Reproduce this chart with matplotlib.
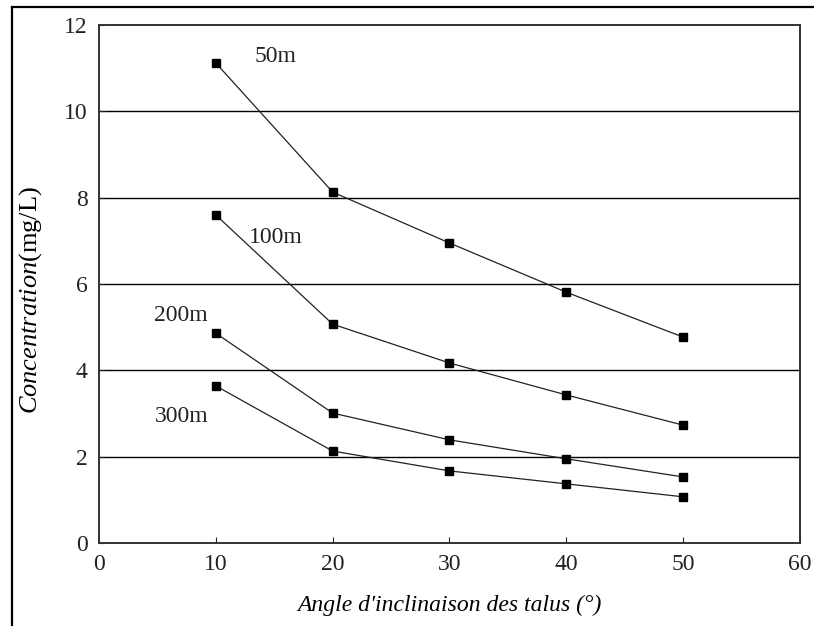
import matplotlib.pyplot as plt
from matplotlib.lines import Line2D

# Slope angle (degrees) and concentration (mg/L) for each distance
angles = [10, 20, 30, 40, 50]
conc_50m = [11.12, 8.13, 6.95, 5.81, 4.77]
conc_100m = [7.60, 5.07, 4.17, 3.43, 2.73]
conc_200m = [4.86, 3.01, 2.39, 1.95, 1.53]
conc_300m = [3.64, 2.13, 1.67, 1.37, 1.07]

series_labels = ['50m', '100m', '200m', '300m']
label_x = [15.1, 15.1, 7.0, 7.1]
label_y = [11.26, 7.07, 5.28, 2.92]

plt.rcParams['font.family'] = ['Liberation Serif', 'DejaVu Serif']
plt.rcParams['mathtext.fontset'] = 'custom'
plt.rcParams['mathtext.it'] = 'Liberation Serif:italic'
plt.rcParams['mathtext.rm'] = 'Liberation Serif'

fig = plt.figure(figsize=(8.14, 6.26), dpi=100)
ax = fig.add_axes([0.1216, 0.1326, 0.8612, 0.8274])

# Horizontal reference lines
for yv in [2, 4, 6, 8, 10]:
    ax.axhline(yv, color='black', lw=1.0, zorder=1)

for vals in [conc_50m, conc_100m, conc_200m, conc_300m]:
    ax.plot(angles, vals, color='#222222', lw=0.9, marker='s', markersize=5.5,
            markerfacecolor='black', markeredgecolor='black', zorder=3)

for name, lx, ly in zip(series_labels, label_x, label_y):
    ax.text(lx, ly, name, fontsize=17, ha='center', va='center', color='#222222')

ax.set_xlim(0, 60)
ax.set_ylim(0, 12)
ax.set_xticks([0, 10, 20, 30, 40, 50, 60])
ax.set_yticks([0, 2, 4, 6, 8, 10, 12])
ax.tick_params(direction='in', length=4, width=0.8, labelsize=17, pad=8,
               colors='#222222', labelcolor='#222222')
for sp in ax.spines.values():
    sp.set_linewidth(1.4)
    sp.set_color('#333333')

ax.set_xlabel("Angle d'inclinaison des talus (°)", fontsize=17, style='italic',
              labelpad=14)
fig.text(0.037, 0.52, r'$\mathit{Concentration}$(mg/L)', rotation=90,
         fontsize=19, ha='center', va='center')

# Frame lines along the top and left edges
fig.add_artist(Line2D([0.0147, 1.0], [0.989, 0.989], transform=fig.transFigure,
                      color='black', lw=1.6))
fig.add_artist(Line2D([0.0147, 0.0147], [0.0, 0.989], transform=fig.transFigure,
                      color='black', lw=1.6))

fig.savefig('out.png', dpi=100)
